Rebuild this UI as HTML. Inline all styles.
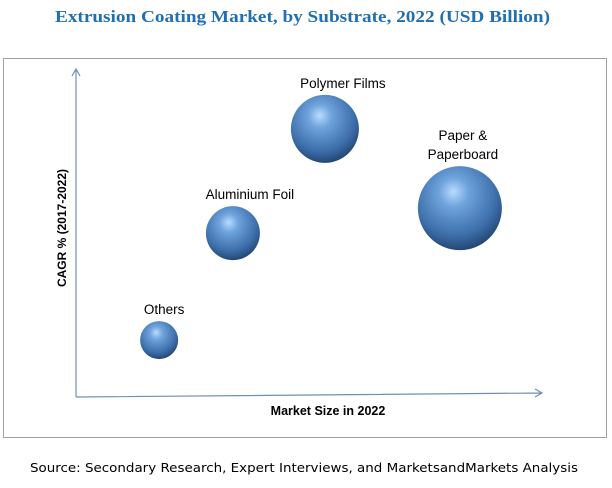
<!DOCTYPE html>
<html><head><meta charset="utf-8"><style>
body{margin:0;background:#fff;width:612px;height:483px;overflow:hidden}
</style></head><body>
<svg width="612" height="483" viewBox="0 0 612 483" xmlns="http://www.w3.org/2000/svg">
<defs>
<radialGradient id="ball" cx="0.45" cy="0.35" r="0.7" fx="0.42" fy="0.3">
<stop offset="0" stop-color="#b8dcff"/>
<stop offset="0.25" stop-color="#6fa3dc"/>
<stop offset="0.7" stop-color="#3d6fab"/>
<stop offset="1" stop-color="#1d3d66"/>
</radialGradient>
</defs>
<text x="55" y="22" textLength="495" lengthAdjust="spacingAndGlyphs" font-family="'Liberation Serif',serif" font-weight="bold" font-size="17" fill="#1f6fb2">Extrusion Coating Market, by Substrate, 2022 (USD Billion)</text>
<rect x="3.5" y="58.5" width="603" height="379" fill="#fff" stroke="#a0a0a0"/>
<g stroke="#6f8fb5" stroke-width="1.2" fill="none">
<path d="M76 397 L76 69 M72 76 L76 69 L80 76"/>
<path d="M76 397 L542 393 M535 389 L542 393 L535 397"/>
</g>
<text transform="translate(66,228) rotate(-90)" text-anchor="middle" font-family="'Liberation Sans',sans-serif" font-weight="bold" font-size="12" fill="#000">CAGR % (2017-2022)</text>
<text x="328" y="415" text-anchor="middle" font-family="'Liberation Sans',sans-serif" font-weight="bold" font-size="12.5" fill="#000">Market Size in 2022</text>
<g id="bubbles"></g>
<text x="30" y="472" textLength="548" lengthAdjust="spacingAndGlyphs" font-family="'DejaVu Sans',sans-serif" font-size="12.5" fill="#000">Source: Secondary Research, Expert Interviews, and MarketsandMarkets Analysis</text>
</svg>
<script>
const categories = ["Others", "Aluminium Foil", "Polymer Films", "Paper & Paperboard"];
const xValues = [17.8, 33.6, 53.3, 82.2];
const yValues = [17.3, 49.8, 81.5, 57.4];
const sizeValues = [19, 27, 34, 42];
const labelLines = [["Others"], ["Aluminium Foil"], ["Polymer Films"], ["Paper &", "Paperboard"]];
const labelDx = [5, 17, 18, 3];
const xScale = v => 76 + v / 100 * 467;
const yScale = v => 397 - v / 100 * 329;
const g = document.getElementById('bubbles');
const NS = 'http://www.w3.org/2000/svg';
categories.forEach((c, i) => {
  const cx = xScale(xValues[i]), cy = yScale(yValues[i]), r = sizeValues[i];
  const circ = document.createElementNS(NS, 'circle');
  circ.setAttribute('cx', cx); circ.setAttribute('cy', cy); circ.setAttribute('r', r);
  circ.setAttribute('fill', 'url(#ball)');
  
  
  g.appendChild(circ);
  const lines = labelLines[i];
  lines.forEach((ln, j) => {
    const t = document.createElementNS(NS, 'text');
    t.setAttribute('x', cx + labelDx[i]);
    t.setAttribute('y', cy - r - 7 - (lines.length - 1 - j) * 19);
    t.setAttribute('text-anchor', 'middle');
    t.setAttribute('font-family', "'Liberation Sans',sans-serif");
    t.setAttribute('font-size', '13.5');
    t.textContent = ln;
    
    
    g.appendChild(t);
  });
});
</script>
</body></html>
